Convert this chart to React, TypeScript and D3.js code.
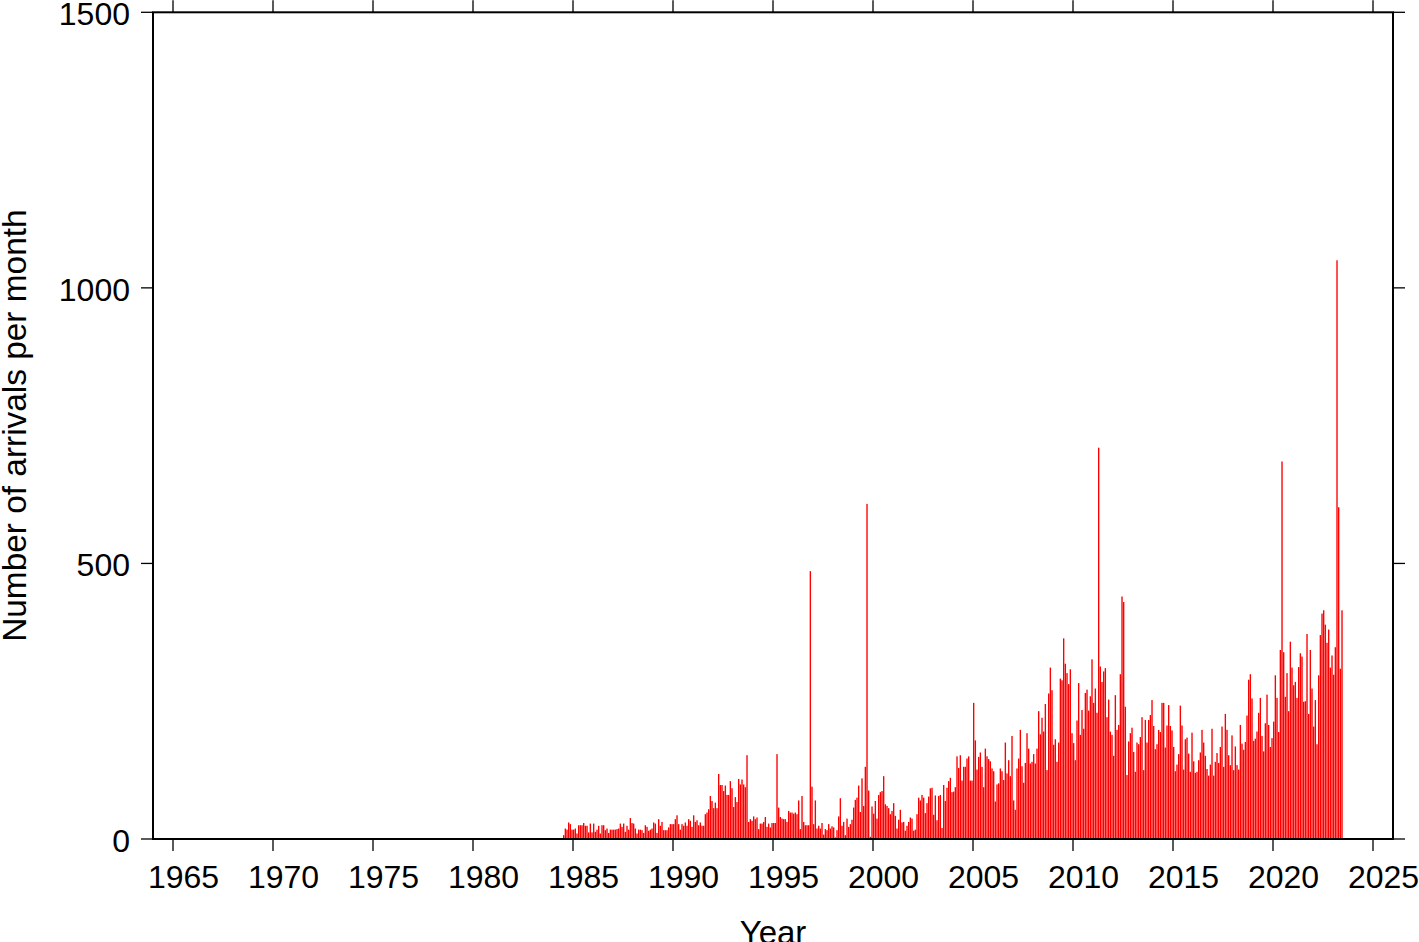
import React from "react";
import * as d3 from "d3";

// Monthly counts starting July 1984 (rows: 1984 Jul-Dec, then full years, 2023 Jan-Jun)
const START_DECIMAL_YEAR = 1984.5;
const monthlyArrivals: number[] = [
  7, 19, 17, 30, 27, 17,
  17, 19, 10, 25, 25, 25, 29, 24, 24, 12, 28, 12,
  28, 13, 17, 24, 10, 25, 25, 16, 19, 11, 17, 17,
  17, 17, 18, 19, 28, 22, 28, 13, 24, 17, 38, 29,
  28, 19, 10, 17, 17, 16, 11, 25, 22, 15, 17, 19,
  30, 28, 11, 36, 24, 31, 16, 16, 16, 21, 27, 27,
  27, 36, 43, 27, 17, 27, 24, 30, 24, 36, 33, 22,
  43, 31, 34, 25, 30, 24, 24, 45, 48, 54, 78, 69,
  56, 66, 56, 118, 98, 98, 87, 97, 80, 80, 105, 92,
  58, 76, 67, 109, 99, 108, 99, 94, 152, 31, 36, 33,
  41, 36, 39, 18, 28, 28, 31, 40, 22, 28, 21, 29,
  29, 29, 154, 57, 40, 37, 36, 36, 31, 51, 48, 48,
  46, 48, 45, 70, 18, 78, 31, 25, 25, 25, 486, 95,
  27, 70, 19, 24, 19, 29, 8, 18, 16, 27, 19, 23,
  21, 3, 16, 41, 74, 24, 31, 7, 37, 22, 27, 35,
  57, 71, 75, 97, 49, 110, 60, 131, 608, 88, 4, 59,
  46, 69, 37, 80, 85, 87, 114, 63, 60, 56, 45, 51,
  65, 42, 19, 35, 53, 30, 31, 15, 24, 31, 39, 37,
  15, 17, 45, 75, 70, 80, 75, 47, 65, 77, 92, 93,
  44, 79, 34, 78, 80, 20, 98, 69, 93, 105, 111, 85,
  86, 94, 150, 129, 152, 106, 131, 131, 146, 150, 106, 106,
  247, 179, 126, 149, 157, 131, 94, 164, 150, 145, 141, 128,
  123, 68, 99, 101, 128, 123, 107, 175, 119, 143, 114, 187,
  70, 53, 128, 146, 198, 132, 102, 138, 192, 164, 137, 140,
  154, 137, 164, 232, 190, 220, 195, 245, 125, 264, 311, 270,
  171, 181, 140, 175, 291, 288, 364, 318, 301, 281, 308, 192,
  174, 143, 215, 283, 189, 234, 200, 265, 271, 233, 259, 326,
  247, 273, 229, 710, 313, 285, 304, 310, 221, 253, 195, 189,
  151, 261, 198, 207, 299, 440, 430, 240, 116, 177, 192, 202,
  158, 122, 175, 172, 185, 221, 125, 216, 175, 216, 225, 252,
  205, 163, 172, 198, 194, 247, 247, 166, 206, 243, 205, 197,
  167, 123, 135, 154, 242, 206, 126, 181, 184, 155, 122, 193,
  141, 120, 122, 143, 157, 198, 175, 151, 127, 115, 135, 200,
  115, 140, 156, 138, 167, 204, 131, 227, 198, 152, 134, 188,
  125, 168, 134, 126, 207, 173, 162, 176, 224, 289, 299, 255,
  178, 182, 195, 229, 256, 187, 159, 210, 262, 207, 167, 183,
  213, 297, 256, 194, 343, 685, 339, 258, 301, 232, 358, 311,
  279, 285, 256, 312, 337, 331, 249, 250, 372, 227, 343, 273,
  204, 252, 172, 297, 370, 409, 415, 389, 356, 380, 311, 333,
  298, 348, 1050, 602, 309, 415,
];

const xTicks = [1965, 1970, 1975, 1980, 1985, 1990, 1995, 2000, 2005, 2010, 2015, 2020, 2025];
const yTicks = [0, 500, 1000, 1500];
const xDomain = [1964, 2026];
const yDomain = [0, 1500];
const xTitle = "Year";
const yTitle = "Number of arrivals per month";

const W = 1419;
const H = 942;
const L = 153;
const R = 1393;
const T = 12.3;
const B = 839;
const FONT = "'Liberation Sans', Arial, Helvetica, sans-serif";

export default function App() {
  const x = d3.scaleLinear().domain(xDomain).range([L, R]);
  const y = d3.scaleLinear().domain(yDomain).range([B, T]);
  const tickLen = 12;

  return (
    <svg
      width={W}
      height={H}
      viewBox={`0 0 ${W} ${H}`}
      style={{ position: "absolute", left: 0, top: 0, background: "#fff" }}
    >
      <rect x={0} y={0} width={W} height={H} fill="#fff" />
      <g>
        {monthlyArrivals.map((v, i) => {
          const t0 = START_DECIMAL_YEAR + i / 12;
          const x0 = x(t0);
          const x1 = x(t0 + 1 / 12);
          const yv = y(v);
          return (
            <rect
              key={i}
              x={x0}
              y={yv}
              width={Math.max(0.5, x1 - x0 - 0.3)}
              height={Math.max(0, B - yv)}
              fill="#ff0000"
            />
          );
        })}
      </g>
      {/* ticks */}
      <g stroke="#000" strokeWidth={1.3}>
        {xTicks.map((t) => (
          <g key={"xt" + t}>
            <line x1={x(t)} x2={x(t)} y1={B} y2={B + tickLen} />
            <line x1={x(t)} x2={x(t)} y1={T} y2={T - tickLen} />
          </g>
        ))}
        {yTicks.map((t) => (
          <g key={"yt" + t}>
            <line x1={L - tickLen} x2={L} y1={y(t)} y2={y(t)} />
            <line x1={R} x2={R + tickLen} y1={y(t)} y2={y(t)} />
          </g>
        ))}
      </g>
      {/* frame */}
      <rect x={L} y={T} width={R - L} height={B - T} fill="none" stroke="#000" strokeWidth={2} />
      {/* tick labels */}
      <g fontFamily={FONT} fontSize={32} fill="#000">
        {xTicks.map((t) => (
          <text key={"xl" + t} x={x(t) + 10.5} y={888} textAnchor="middle">
            {t}
          </text>
        ))}
        {yTicks.map((t) => (
          <text key={"yl" + t} x={130} y={y(t) + 13} textAnchor="end">
            {t}
          </text>
        ))}
        <text x={(L + R) / 2} y={944} textAnchor="middle" fontSize={33}>
          {xTitle}
        </text>
        <text
          transform={`translate(26, ${(T + B) / 2}) rotate(-90)`}
          textAnchor="middle"
          fontSize={33.4}
        >
          {yTitle}
        </text>
      </g>
    </svg>
  );
}
